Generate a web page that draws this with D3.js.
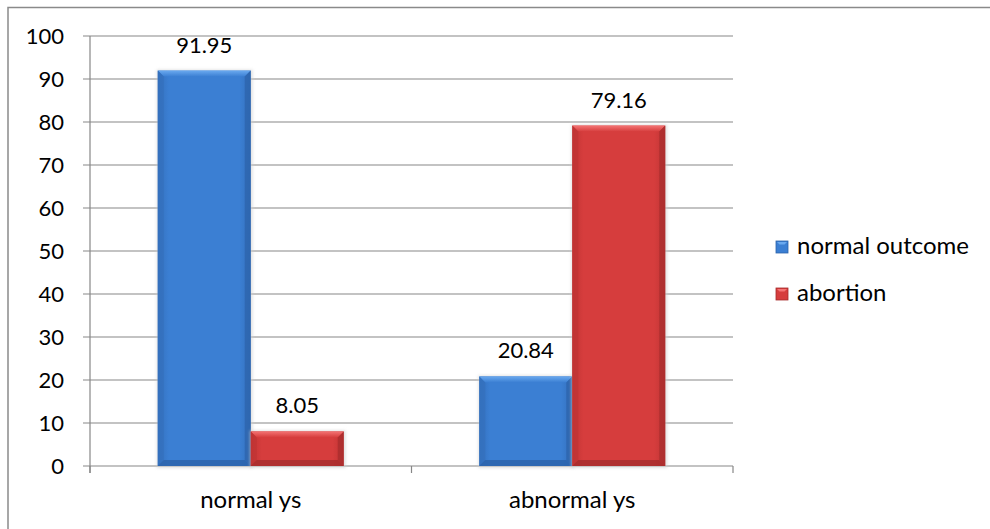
<!DOCTYPE html>
<html>
<head>
<meta charset="utf-8">
<script src="https://cdn.jsdelivr.net/npm/d3@7"></script>
<style>
  html, body { margin: 0; padding: 0; background: #fff; }
  svg { display: block; }
  text { font-family: Lato, "Open Sans", sans-serif; fill: #000; }
</style>
</head>
<body>
<svg id="chart" width="990" height="529"></svg>
<script>
// Outcome by yolk sac appearance (%)
const categories = ["normal ys", "abnormal ys"];
const seriesNames = ["normal outcome", "abortion"];
const normalOutcome = [91.95, 20.84];
const abortion = [8.05, 79.16];
const yTicks = [0, 10, 20, 30, 40, 50, 60, 70, 80, 90, 100];

const series = [
  { name: seriesNames[0], values: normalOutcome, key: "blue" },
  { name: seriesNames[1], values: abortion, key: "red" }
];

const palette = {
  blue: { body: "#3b7fd3", light: "#6aa9ef", dark: "#2c63aa", edge: "#3470bd" },
  red:  { body: "#d63d3d", light: "#f47474", dark: "#a52c2c", edge: "#c03434" }
};

const NUM_FONT = 22;   // numbers (ticks, value labels)
const WORD_FONT = 24;  // category and legend text
const svg = d3.select("#chart");
const plot = { left: 90, right: 733, top: 36, bottom: 466 };

// Outer frame
svg.append("rect")
  .attr("x", 8).attr("y", 7.5)
  .attr("width", 1000).attr("height", 1000)
  .attr("fill", "none").attr("stroke", "#8a8a8a").attr("stroke-width", 1.5);

const x0 = d3.scaleBand().domain(categories).range([plot.left, plot.right]).paddingInner(0).paddingOuter(0);
const y = d3.scaleLinear().domain([0, 100]).range([plot.bottom, plot.top]);
const barW = 93;
const x1 = d3.scaleBand().domain(seriesNames).range([0, barW * 2]);

// Gradients
const defs = svg.append("defs");
Object.entries(palette).forEach(([k, c]) => {
  const g = defs.append("linearGradient").attr("id", "grad-" + k)
    .attr("x1", "0").attr("x2", "1").attr("y1", "0").attr("y2", "0");
  g.append("stop").attr("offset", "0").attr("stop-color", c.edge);
  g.append("stop").attr("offset", "0.12").attr("stop-color", c.body);
  g.append("stop").attr("offset", "0.88").attr("stop-color", c.body);
  g.append("stop").attr("offset", "1").attr("stop-color", c.edge);
  const t = defs.append("linearGradient").attr("id", "top-" + k)
    .attr("x1", "0").attr("x2", "0").attr("y1", "0").attr("y2", "1");
  t.append("stop").attr("offset", "0").attr("stop-color", c.light);
  t.append("stop").attr("offset", "1").attr("stop-color", c.body);
});
const blur = defs.append("filter").attr("id", "shadow").attr("x", "-10%").attr("y", "-10%").attr("width", "120%").attr("height", "120%");
blur.append("feGaussianBlur").attr("stdDeviation", 1.5);

// Gridlines
svg.append("g").selectAll("line").data(yTicks).join("line")
  .attr("x1", plot.left - 7).attr("x2", plot.right)
  .attr("y1", d => y(d)).attr("y2", d => y(d))
  .attr("stroke", "#878787").attr("stroke-width", 1.2);

// Y axis line
svg.append("line")
  .attr("x1", plot.left).attr("x2", plot.left)
  .attr("y1", plot.top).attr("y2", plot.bottom + 7)
  .attr("stroke", "#878787").attr("stroke-width", 1.2);

// X-axis category ticks
const xTickPos = [plot.left, plot.left + x0.bandwidth(), plot.right];
svg.append("g").selectAll("line").data(xTickPos).join("line")
  .attr("x1", d => d).attr("x2", d => d)
  .attr("y1", plot.bottom).attr("y2", plot.bottom + 7)
  .attr("stroke", "#878787").attr("stroke-width", 1.2);

// Y tick labels
svg.append("g").selectAll("text").data(yTicks).join("text")
  .attr("x", 64).attr("y", d => y(d))
  .attr("dy", "0.36em").attr("text-anchor", "end")
  .attr("font-size", NUM_FONT).text(d => d);

// Category labels
svg.append("g").selectAll("text").data(categories).join("text")
  .attr("x", d => x0(d) + x0.bandwidth() / 2).attr("y", 508)
  .attr("text-anchor", "middle").attr("font-size", WORD_FONT).text(d => d);

// Bars
const bars = [];
categories.forEach((cat, i) => {
  series.forEach(s => {
    const bx = x0(cat) + (x0.bandwidth() - barW * 2) / 2 + x1(s.name);
    bars.push({ x: bx, w: x1.bandwidth(), v: s.values[i], key: s.key });
  });
});

const bg = svg.append("g");
bars.forEach(b => {
  const top = y(b.v), bot = y(0), h = bot - top, c = palette[b.key];
  const g = bg.append("g");
  g.append("rect").attr("x", b.x - 1).attr("y", top - 1).attr("width", b.w + 3).attr("height", h + 3)
    .attr("fill", "#cfcfcf").attr("opacity", 0.6).attr("filter", "url(#shadow)");
  g.append("rect").attr("x", b.x).attr("y", top).attr("width", b.w).attr("height", h)
    .attr("fill", "url(#grad-" + b.key + ")");
  const bev = Math.min(6, h / 3);
  // top bevel
  g.append("polygon")
    .attr("points", [[b.x, top], [b.x + b.w, top], [b.x + b.w - bev, top + bev], [b.x + bev, top + bev]].join(" "))
    .attr("fill", "url(#top-" + b.key + ")");
  // side bevels
  g.append("polygon")
    .attr("points", [[b.x, top], [b.x + bev, top + bev], [b.x + bev, bot - bev], [b.x, bot]].join(" "))
    .attr("fill", c.edge).attr("opacity", 0.8);
  g.append("polygon")
    .attr("points", [[b.x + b.w, top], [b.x + b.w - bev, top + bev], [b.x + b.w - bev, bot - bev], [b.x + b.w, bot]].join(" "))
    .attr("fill", c.dark).attr("opacity", 0.7);
  // bottom bevel
  g.append("polygon")
    .attr("points", [[b.x, bot], [b.x + bev, bot - bev], [b.x + b.w - bev, bot - bev], [b.x + b.w, bot]].join(" "))
    .attr("fill", c.dark).attr("opacity", 0.8);
});

// Value labels
svg.append("g").selectAll("text").data(bars).join("text")
  .attr("x", d => d.x + d.w / 2).attr("y", d => y(d.v) - 18)
  .attr("text-anchor", "middle").attr("font-size", NUM_FONT)
  .text(d => d.v.toFixed(2));

// Legend
const legend = svg.append("g");
const sq = 12;
series.forEach((s, i) => {
  const ly = 247 + i * 47;
  const c = palette[s.key];
  const lx = 776;
  legend.append("rect").attr("x", lx).attr("y", ly - sq / 2).attr("width", sq).attr("height", sq)
    .attr("fill", c.body).attr("stroke", c.dark).attr("stroke-width", 0.8);
  legend.append("polygon")
    .attr("points", [[lx + 1, ly - sq / 2 + 1], [lx + sq - 1, ly - sq / 2 + 1], [lx + sq - 3.5, ly - sq / 2 + 3.5], [lx + 3.5, ly - sq / 2 + 3.5]].join(" "))
    .attr("fill", c.light);
  legend.append("text").attr("x", 797).attr("y", ly).attr("dy", "0.3em")
    .attr("font-size", WORD_FONT).text(s.name);
});
</script>
</body>
</html>
